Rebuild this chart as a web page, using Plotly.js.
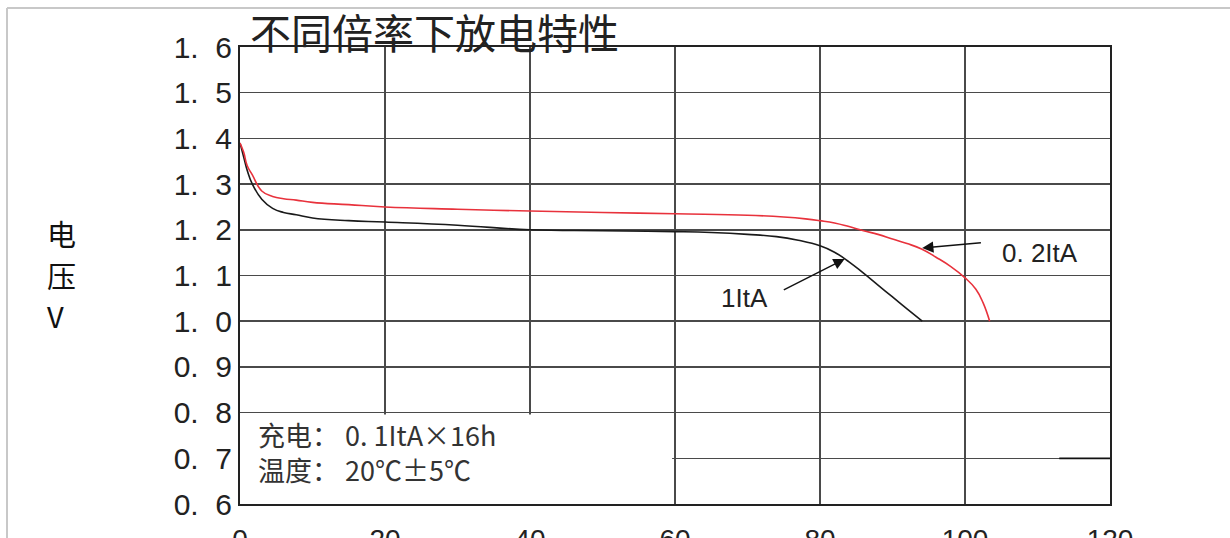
<!DOCTYPE html>
<html>
<head>
<meta charset="utf-8">
<script src="https://cdn.plot.ly/plotly-3.0.1.min.js"></script>
<style>html,body{margin:0;padding:0;background:#fff;}#chart{width:1230px;height:538px;}</style>
</head>
<body>
<div id="chart"></div>
<script>
// Discharge capacity (%) and voltage (V)
const x_1ItA = [0, 0.5, 1, 1.7, 3, 4.5, 6, 7.75, 10, 15, 20, 30, 40, 50, 60, 65, 70, 74, 77, 80, 82, 84, 86, 88, 90, 92, 94.1];
const v_1ItA = [1.39, 1.36, 1.33, 1.30, 1.267, 1.247, 1.238, 1.233, 1.226, 1.22, 1.217, 1.21, 1.20, 1.198, 1.196, 1.194, 1.19, 1.185, 1.177, 1.165, 1.151, 1.130, 1.105, 1.079, 1.053, 1.027, 1.0];
const x_02ItA = [0, 0.5, 1, 1.7, 3, 4.5, 6, 7.75, 10, 15, 20, 30, 40, 50, 60, 70, 75, 78, 80, 82, 84, 86, 88, 90, 92, 94, 96, 98, 100, 101.5, 102.5, 103.4];
const v_02ItA = [1.39, 1.37, 1.34, 1.32, 1.285, 1.273, 1.268, 1.265, 1.26, 1.255, 1.25, 1.245, 1.241, 1.238, 1.235, 1.232, 1.228, 1.224, 1.22, 1.215, 1.207, 1.198, 1.19, 1.18, 1.17, 1.158, 1.14, 1.12, 1.095, 1.07, 1.04, 1.0];
const xTickVals = [0, 20, 40, 60, 80, 100, 120];
const xTickText = ["0", "20", "40", "60", "80", "100", "120"];
const yTickVals = [0.6, 0.7, 0.8, 0.9, 1.0, 1.1, 1.2, 1.3, 1.4, 1.5, 1.6];
const yTickText = ["0.\u00a0\u00a06", "0.\u00a0\u00a07", "0.\u00a0\u00a08", "0.\u00a0\u00a09", "1.\u00a0\u00a00", "1.\u00a0\u00a01", "1.\u00a0\u00a02", "1.\u00a0\u00a03", "1.\u00a0\u00a04", "1.\u00a0\u00a05", "1.\u00a0\u00a06"];
const titleText = "不同倍率下放电特性";
const yLabelChars = ["电", "压", "V"];
const noteLines = ["充电： 0. 1ItA×16h", "温度： 20℃±5℃"];
const seriesNames = ["1ItA", "0. 2ItA"];

const cjk = '"Noto Sans CJK SC", "Noto Sans", sans-serif';
const lat = '"Liberation Sans", Arial, sans-serif';

const traces = [
  {x: x_1ItA, y: v_1ItA, name: seriesNames[0], type: 'scatter', mode: 'lines',
   line: {color: '#1a1a1a', width: 1.6, shape: 'spline', smoothing: 1.3}},
  {x: x_02ItA, y: v_02ItA, name: seriesNames[1], type: 'scatter', mode: 'lines',
   line: {color: '#e8323c', width: 1.6, shape: 'spline', smoothing: 1.3}}
];

// vertical stacked y-axis label, one character per line (pixel rows 233, 275, 315)
const labelY = [0.592, 0.501, 0.413];
const yLabelAnns = yLabelChars.map((c, i) => ({
  xref: 'paper', yref: 'paper', x: -0.2245, y: labelY[i], text: c, showarrow: false,
  font: {family: cjk, size: 29, color: '#111'}
}));

const layout = {
  width: 1230, height: 538,
  margin: {l: 240, r: 120, t: 47, b: 34},
  paper_bgcolor: '#fff', plot_bgcolor: '#fff',
  showlegend: false,
  title: {text: titleText, x: 0.0115, xref: 'paper', xanchor: 'left', y: 0.935, yref: 'container', yanchor: 'middle',
          font: {family: cjk, size: 41, color: '#222'}},
  xaxis: {range: [0, 120], tickvals: xTickVals, ticktext: xTickText, showgrid: true,
          gridcolor: '#4a4a4a', gridwidth: 1.5, zeroline: false, showline: true, mirror: true, linecolor: '#222', linewidth: 2,
          ticks: '', ticklabelstandoff: 9, tickfont: {family: lat, size: 28, color: '#222'}, fixedrange: true},
  yaxis: {range: [0.6, 1.6], tickvals: yTickVals, ticktext: yTickText, showgrid: true,
          gridcolor: '#4a4a4a', gridwidth: 1.5, zeroline: false, showline: true, mirror: true, linecolor: '#222', linewidth: 2,
          ticks: '', ticklabelstandoff: 0, tickfont: {family: lat, size: 30, color: '#222'}, fixedrange: true},
  shapes: [
    {type: 'rect', xref: 'x', yref: 'y', x0: 0, x1: 59.6, y0: 0.6, y1: 0.796, fillcolor: '#fff', line: {width: 0}, layer: 'between'},
    {type: 'line', xref: 'x', yref: 'y', x0: 113, x1: 120, y0: 0.7, y1: 0.7, line: {color: '#111', width: 1.8}, layer: 'between'},
    {type: 'line', xref: 'paper', yref: 'paper', x0: -0.2678, x1: 1.14, y0: 1.0853, y1: 1.0853, line: {color: '#c8c8c8', width: 2}},
    {type: 'line', xref: 'paper', yref: 'paper', x0: -0.2678, x1: -0.2678, y0: 1.0853, y1: -0.08, line: {color: '#c8c8c8', width: 2}}
  ],
  annotations: yLabelAnns.concat([
    {xref: 'x', yref: 'y', x: 2.2, y: 0.713, text: noteLines[0] + '<br>' + noteLines[1], showarrow: false, xanchor: 'left', align: 'left',
     font: {family: cjk, size: 27, color: '#333'}},
    {xref: 'x', yref: 'y', x: 110.3, y: 1.15, text: seriesNames[1], showarrow: false,
     font: {family: lat, size: 26, color: '#222'}},
    {xref: 'x', yref: 'y', x: 69.6, y: 1.05, text: seriesNames[0], showarrow: false,
     font: {family: lat, size: 26, color: '#222'}},
    {xref: 'x', yref: 'y', x: 94.1, y: 1.16, axref: 'x', ayref: 'y', ax: 102.4, ay: 1.172, text: '', showarrow: true,
     arrowhead: 2, arrowsize: 1.6, arrowwidth: 1.4, arrowcolor: '#111', standoff: 0},
    {xref: 'x', yref: 'y', x: 83.4, y: 1.136, axref: 'x', ayref: 'y', ax: 74.8, ay: 1.067, text: '', showarrow: true,
     arrowhead: 2, arrowsize: 1.6, arrowwidth: 1.4, arrowcolor: '#111', standoff: 0}
  ])
};

Plotly.newPlot('chart', traces, layout, {staticPlot: true, displayModeBar: false});
</script>
</body>
</html>
